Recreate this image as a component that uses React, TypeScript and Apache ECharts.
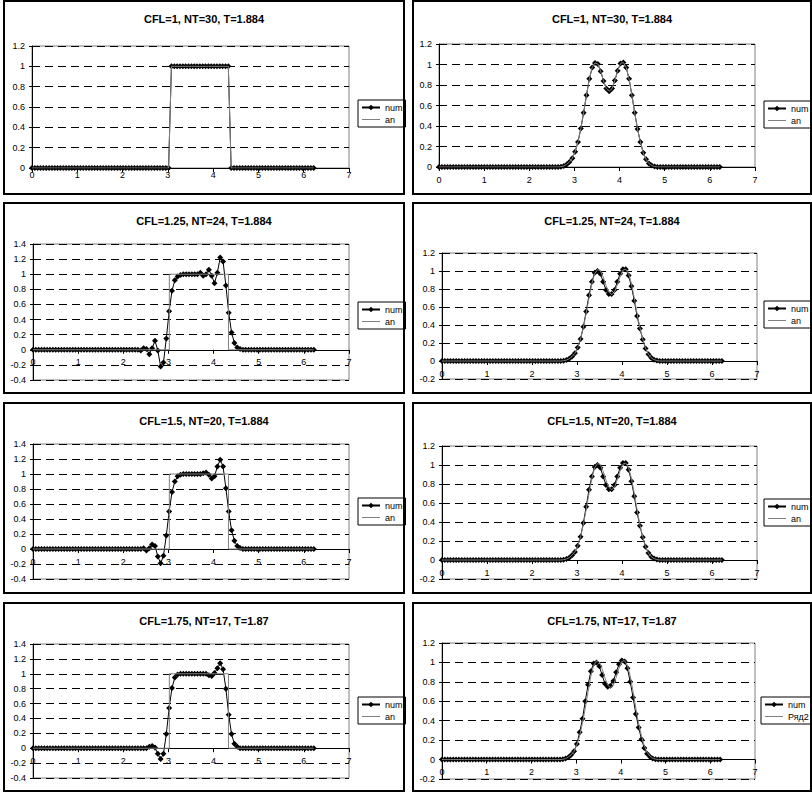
import React, { useEffect, useRef } from "react";
import * as echarts from "echarts";

// Grid of the numerical scheme (100 nodes on [0, 2π))
const X = [
  0, 0.063, 0.126, 0.188, 0.251, 0.314, 0.377, 0.44, 0.503, 0.565,
  0.628, 0.691, 0.754, 0.817, 0.88, 0.942, 1.005, 1.068, 1.131, 1.194,
  1.257, 1.319, 1.382, 1.445, 1.508, 1.571, 1.634, 1.696, 1.759, 1.822,
  1.885, 1.948, 2.011, 2.073, 2.136, 2.199, 2.262, 2.325, 2.388, 2.45,
  2.513, 2.576, 2.639, 2.702, 2.765, 2.827, 2.89, 2.953, 3.016, 3.079,
  3.142, 3.204, 3.267, 3.33, 3.393, 3.456, 3.519, 3.581, 3.644, 3.707,
  3.77, 3.833, 3.896, 3.958, 4.021, 4.084, 4.147, 4.21, 4.273, 4.335,
  4.398, 4.461, 4.524, 4.587, 4.65, 4.712, 4.775, 4.838, 4.901, 4.964,
  5.027, 5.089, 5.152, 5.215, 5.278, 5.341, 5.404, 5.466, 5.529, 5.592,
  5.655, 5.718, 5.781, 5.843, 5.906, 5.969, 6.032, 6.095, 6.158, 6.22,
];

// Values outside each window read as 0 on the picture.
// Left column: square pulse
const PULSE_FROM = 49;
const NUM_PULSE_CFL1 = [1, 1, 1, 1, 1, 1, 1, 1, 1, 1, 1, 1, 1, 1, 1, 1, 1, 1, 1, 1, 1];
const AN_PULSE_X = [0, 3.02, 3.02, 4.33, 4.33, 6.22];
const AN_PULSE_Y = [0, 0, 1, 1, 0, 0];

const OSC_FROM = 36;
const NUM_PULSE_CFL125 = [
  0, 0, -0.01, 0.02, 0.01, -0.06, 0.02, 0.12, -0.01, -0.22,
  -0.17, 0.15, 0.51, 0.78, 0.92, 0.97, 0.99, 1, 1, 1,
  1, 1, 1, 1.02, 0.98, 1.0, 1.06, 0.98, 0.88, 1.02,
  1.22, 1.17, 0.85, 0.49, 0.23, 0.09, 0.03, 0.01, 0, 0, 0,
];
const NUM_PULSE_CFL15 = [
  0, 0, 0, 0.01, -0.02, 0.01, 0.06, 0.04, -0.1, -0.19,
  -0.09, 0.18, 0.5, 0.76, 0.9, 0.97, 0.99, 1, 1, 1,
  1, 1, 1, 1, 1.01, 1.02, 0.99, 0.94, 0.97, 1.1,
  1.19, 1.1, 0.81, 0.5, 0.25, 0.11, 0.04, 0.015, 0, 0, 0,
];
const NUM_PULSE_CFL175 = [
  0, 0, 0, 0, 0, 0.02, 0.03, 0.01, -0.075, -0.145,
  -0.075, 0.19, 0.54, 0.81, 0.95, 0.99, 1, 1, 1, 1,
  1, 1, 1, 1, 1, 1, 0.98, 0.97, 1.01, 1.075,
  1.14, 1.06, 0.8, 0.45, 0.19, 0.06, 0.02, 0, 0, 0, 0,
];

// Right column: smooth double hump
const HUMP_FROM = 42;
const HUMP_NUM_CFL1 = [
  0, 0.003, 0.01, 0.025, 0.05, 0.085, 0.15, 0.245, 0.375, 0.53,
  0.7, 0.86, 0.97, 1.015, 1.005, 0.935, 0.84, 0.765, 0.74, 0.765,
  0.845, 0.94, 1.01, 1.02, 0.97, 0.86, 0.7, 0.53, 0.37, 0.245,
  0.14, 0.075, 0.035, 0.015, 0.005, 0, 0,
];
const HUMP_NUM_CFL125 = [
  0, 0.003, 0.01, 0.025, 0.05, 0.085, 0.15, 0.245, 0.38, 0.55,
  0.73, 0.88, 0.98, 1.0, 0.97, 0.88, 0.79, 0.745, 0.745, 0.79,
  0.88, 0.97, 1.02, 1.02, 0.95, 0.83, 0.67, 0.5, 0.36, 0.24,
  0.14, 0.075, 0.035, 0.015, 0.005, 0, 0,
];
const HUMP_NUM_CFL15 = [
  0, 0.003, 0.01, 0.025, 0.05, 0.085, 0.15, 0.245, 0.39, 0.56,
  0.74, 0.88, 0.98, 1.0, 0.97, 0.88, 0.79, 0.745, 0.745, 0.79,
  0.88, 0.97, 1.02, 1.02, 0.95, 0.83, 0.67, 0.5, 0.36, 0.24,
  0.14, 0.075, 0.035, 0.015, 0.005, 0, 0,
];
const HUMP_NUM_CFL175 = [
  0, 0.003, 0.01, 0.025, 0.05, 0.085, 0.16, 0.28, 0.42, 0.6,
  0.77, 0.91, 0.99, 1.0, 0.96, 0.87, 0.78, 0.75, 0.76, 0.81,
  0.9, 0.98, 1.02, 1.01, 0.94, 0.8, 0.64, 0.47, 0.33, 0.21,
  0.12, 0.06, 0.03, 0.012, 0.004, 0, 0,
];
// At CFL=1 the scheme reproduces the exact solution
const HUMP_AN = HUMP_NUM_CFL1;

const TITLES = [
  "CFL=1, NT=30, T=1.884",
  "CFL=1.25, NT=24, T=1.884",
  "CFL=1.5, NT=20, T=1.884",
  "CFL=1.75, NT=17, T=1.87",
];
const Y_TICKS_LEFT = [
  [0, 1.2],
  [-0.4, 1.4],
  [-0.4, 1.4],
  [-0.4, 1.4],
];
const Y_TICKS_RIGHT = [
  [0, 1.2],
  [-0.2, 1.2],
  [-0.2, 1.2],
  [-0.2, 1.2],
];
const X_TICKS = [0, 7];
const SERIES_NAMES = ["num", "an"];
const LAST_AN_NAME = "Ряд2";

function onGrid(from: number, vals: number[]) {
  return X.map((x, i) => [x, i >= from && i < from + vals.length ? vals[i - from] : 0]);
}
function pairs(xs: number[], ys: number[]) {
  return xs.map((x, i) => [x, ys[i]]);
}

const FONT = "'Liberation Sans', Arial, sans-serif";

export default function App() {
  const ref = useRef<HTMLDivElement>(null);
  useEffect(() => {
    document.body.style.margin = "0";
    if (!ref.current) return;
    const chart = echarts.init(ref.current, undefined, { renderer: "svg" });

    const leftNum = [
      onGrid(PULSE_FROM, NUM_PULSE_CFL1),
      onGrid(OSC_FROM, NUM_PULSE_CFL125),
      onGrid(OSC_FROM, NUM_PULSE_CFL15),
      onGrid(OSC_FROM, NUM_PULSE_CFL175),
    ];
    const pulseAn = pairs(AN_PULSE_X, AN_PULSE_Y);
    const leftAn = [leftNum[0], pulseAn, pulseAn, pulseAn];
    const rightNum = [
      onGrid(HUMP_FROM, HUMP_NUM_CFL1),
      onGrid(HUMP_FROM, HUMP_NUM_CFL125),
      onGrid(HUMP_FROM, HUMP_NUM_CFL15),
      onGrid(HUMP_FROM, HUMP_NUM_CFL175),
    ];
    const rightAn = onGrid(HUMP_FROM, HUMP_AN);

    // panel layout
    const boxTops = [1, 203, 403, 603];
    const boxH = [193, 190, 190, 188];
    const gridsL = [
      { left: 32, top: 46, width: 317, height: 122, lm: 2, leg: 100 },
      { left: 33, top: 244, width: 316, height: 136, lm: 8, leg: 302 },
      { left: 33, top: 444, width: 316, height: 135, lm: 8, leg: 498 },
      { left: 33, top: 644, width: 316, height: 134, lm: 8, leg: 697 },
    ];
    const gridsR = [
      { left: 439, top: 44, width: 316, height: 123, lm: 8, leg: 101 },
      { left: 442, top: 253, width: 315, height: 126, lm: 8, leg: 301 },
      { left: 442, top: 446, width: 315, height: 133, lm: 8, leg: 499 },
      { left: 442, top: 643, width: 313, height: 136, lm: 8, leg: 697 },
    ];

    const grid: any[] = [];
    const xAxis: any[] = [];
    const yAxis: any[] = [];
    const series: any[] = [];
    const legend: any[] = [];
    const graphic: any[] = [];

    const addPanel = (
      g: any,
      yr: number[],
      num: number[][],
      an: number[][],
      anName: string,
      legLeft: number
    ) => {
      const k = grid.length;
      grid.push({
        left: g.left,
        top: g.top,
        width: g.width,
        height: g.height,
        show: true,
        borderColor: "#808080",
        borderWidth: 1,
        backgroundColor: "transparent",
      });
      // x axis crosses the y axis at 0
      const zeroOffset = -(g.height * (0 - yr[0])) / (yr[1] - yr[0]);
      xAxis.push({
        type: "value",
        gridIndex: k,
        position: "bottom",
        offset: zeroOffset,
        min: X_TICKS[0],
        max: X_TICKS[1],
        interval: 1,
        axisLine: { show: true, onZero: false, lineStyle: { color: "#000", width: 1 } },
        axisTick: { show: true, length: 4, lineStyle: { color: "#000" } },
        axisLabel: { fontSize: 9, color: "#000", margin: g.lm, fontFamily: FONT },
        splitLine: { show: false },
      });
      yAxis.push({
        type: "value",
        gridIndex: k,
        min: yr[0],
        max: yr[1],
        interval: 0.2,
        axisLine: { show: true, onZero: false, lineStyle: { color: "#000", width: 1 } },
        axisTick: { show: true, length: 3, lineStyle: { color: "#000" } },
        axisLabel: {
          fontSize: 9,
          color: "#000",
          margin: 7,
          fontFamily: FONT,
          formatter: (v: number) => String(Math.round(v * 10) / 10),
        },
        splitLine: { show: true, lineStyle: { color: "#000", width: 1, type: [8, 5] } },
      });
      series.push({
        name: SERIES_NAMES[0],
        type: "line",
        xAxisIndex: k,
        yAxisIndex: k,
        data: num,
        symbol: "diamond",
        symbolSize: 6,
        showSymbol: true,
        color: "#000",
        itemStyle: { color: "#000" },
        lineStyle: { color: "#000", width: 1 },
        z: 3,
      });
      series.push({
        name: anName,
        type: "line",
        xAxisIndex: k,
        yAxisIndex: k,
        data: an,
        symbol: "none",
        color: "#808080",
        lineStyle: { color: "#808080", width: 1 },
        z: 4,
      });
      legend.push({
        orient: "vertical",
        left: legLeft,
        top: g.leg,
        data: [
          { name: SERIES_NAMES[0] },
          {
            name: anName,
            itemStyle: { color: "rgba(0,0,0,0)", borderWidth: 0, opacity: 0 },
            lineStyle: { color: "#808080", width: 1 },
          },
        ],
        itemWidth: 18,
        itemHeight: 7,
        itemGap: 1,
        padding: [2, 3, 2, 3],
        borderColor: "#000",
        borderWidth: 1,
        textStyle: { fontSize: 9, color: "#000", fontFamily: FONT, lineHeight: 11 },
        selectedMode: false,
      });
    };

    for (let r = 0; r < 4; r++) {
      addPanel(gridsL[r], Y_TICKS_LEFT[r], leftNum[r], leftAn[r], SERIES_NAMES[1], 358);
      addPanel(
        gridsR[r],
        Y_TICKS_RIGHT[r],
        rightNum[r],
        rightAn,
        r === 3 ? LAST_AN_NAME : SERIES_NAMES[1],
        r === 3 ? 761 : 764
      );
      graphic.push({
        type: "rect",
        shape: { x: 4, y: boxTops[r], width: 400, height: boxH[r] },
        style: { fill: "none", stroke: "#000", lineWidth: 2 },
        silent: true,
      });
      graphic.push({
        type: "rect",
        shape: { x: 413, y: boxTops[r], width: 398, height: boxH[r] },
        style: { fill: "none", stroke: "#000", lineWidth: 2 },
        silent: true,
      });
      graphic.push({
        type: "text",
        x: 204,
        y: boxTops[r] + 18,
        style: {
          text: TITLES[r],
          textAlign: "center",
          textVerticalAlign: "middle",
          font: `bold 11px ${FONT}`,
          fill: "#000",
        },
        silent: true,
      });
      graphic.push({
        type: "text",
        x: 612,
        y: boxTops[r] + 18,
        style: {
          text: TITLES[r],
          textAlign: "center",
          textVerticalAlign: "middle",
          font: `bold 11px ${FONT}`,
          fill: "#000",
        },
        silent: true,
      });
    }

    chart.setOption({
      animation: false,
      backgroundColor: "#fff",
      textStyle: { fontFamily: FONT },
      grid,
      xAxis,
      yAxis,
      series,
      legend,
      graphic,
    });
    return () => chart.dispose();
  }, []);
  return <div ref={ref} style={{ width: 812, height: 792 }} />;
}
